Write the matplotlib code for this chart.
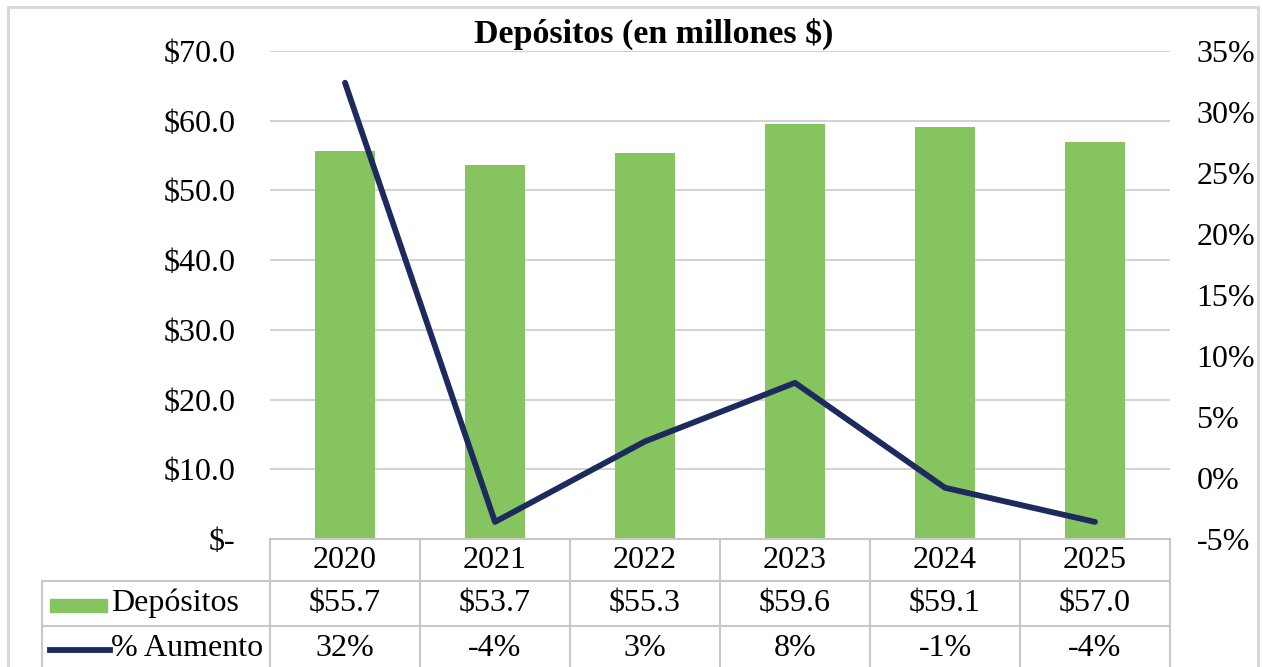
import matplotlib
matplotlib.use("Agg")
import matplotlib.pyplot as plt
import matplotlib.transforms as mtransforms
from matplotlib.patches import Rectangle
from matplotlib.lines import Line2D

years = ["2020", "2021", "2022", "2023", "2024", "2025"]
depositos = [55.7, 53.7, 55.3, 59.6, 59.1, 57.0]
aumento = [0.324, -0.036, 0.030, 0.078, -0.008, -0.036]
dep_labels = ["$55.7", "$53.7", "$55.3", "$59.6", "$59.1", "$57.0"]
aum_labels = ["32%", "-4%", "3%", "8%", "-1%", "-4%"]
left_ticks = [0, 10, 20, 30, 40, 50, 60, 70]
right_ticks = [-0.05, 0, 0.05, 0.10, 0.15, 0.20, 0.25, 0.30, 0.35]

green = "#86c45f"
navy = "#1c2a5e"
grid_col = "#d3d3d3"
fs = 23

plt.rcParams['font.family'] = ['Liberation Serif', 'DejaVu Serif']

fig = plt.figure(figsize=(12.63, 6.67), dpi=100)
W, H = 1263, 667
# axes in pixel terms: left 270, right 1170, top 51, bottom 539
ax = fig.add_axes([270 / W, (H - 539) / H, 900 / W, 488 / H])

# outer border
fig.patches.append(Rectangle((8 / W, -0.05), 1250 / W, (H - 7) / H + 0.05,
                             transform=fig.transFigure, fill=False,
                             edgecolor="#d6d6d6", lw=2))

x = list(range(len(years)))
ax.bar(x, depositos, width=0.4, color=green, zorder=2)
ax.set_xlim(-0.5, 5.5)
ax.set_ylim(0, 70)
ax.set_yticks(left_ticks)
ax.set_yticklabels(["$-" if v == 0 else "$%.1f" % v for v in left_ticks], fontsize=fs)
ax.grid(axis='y', color=grid_col, lw=1.5)
ax.set_axisbelow(True)
ax.set_xticks([])
ax.tick_params(axis='y', length=0, pad=25)
for s in ax.spines.values():
    s.set_visible(False)

ax2 = ax.twinx()
ax2.plot(x, aumento, color=navy, lw=4.2, solid_capstyle='round', zorder=3)
ax2.set_ylim(-0.05, 0.35)
ax2.set_yticks(right_ticks)
ax2.set_yticklabels(["%d%%" % round(v * 100) for v in right_ticks], fontsize=fs)
ax2.tick_params(axis='y', length=0, pad=19)
for s in ax2.spines.values():
    s.set_visible(False)

fig.text(654 / W, 1 - 34 / H, "Depósitos (en millones $)", ha='center', va='center',
         fontsize=24.5, fontweight='bold')

# data table below the plot
tr = mtransforms.blended_transform_factory(ax.transData, ax.transAxes)
col_left = -0.5 - (270 - 42) / 150
rows = [0, -42 / 488, -87 / 488, -131 / 488]
tcol = "#c8c8c8"


def seg(xs, ys):
    ax.add_line(Line2D(xs, ys, transform=tr, color=tcol, lw=1.5, clip_on=False))


seg([-0.5, 5.5], [rows[0], rows[0]])
for r in rows[1:]:
    seg([col_left, 5.5], [r, r])
for i in range(7):
    seg([i - 0.5, i - 0.5], [rows[0], rows[3]])
seg([col_left, col_left], [rows[1], rows[3]])

centers = [(rows[i] + rows[i + 1]) / 2 for i in range(3)]
for i in x:
    ax.text(i, centers[0], years[i], transform=tr, ha='center', va='center', fontsize=fs)
    ax.text(i, centers[1], dep_labels[i], transform=tr, ha='center', va='center', fontsize=fs)
    ax.text(i, centers[2], aum_labels[i], transform=tr, ha='center', va='center', fontsize=fs)

key_x = -0.5 - (270 - 50) / 150
ax.add_patch(Rectangle((key_x, (539 - 612) / 488), 57 / 150, 13 / 488, transform=tr,
                       color=green, clip_on=False))
ax.add_line(Line2D([key_x, key_x + 60 / 150], [centers[2] - 0.004] * 2, transform=tr,
                   color=navy, lw=4.2, clip_on=False))
lab_x = -0.5 - (270 - 111) / 150
ax.text(lab_x, centers[1], "Depósitos", transform=tr, ha='left', va='center', fontsize=fs)
ax.text(lab_x, centers[2], "% Aumento", transform=tr, ha='left', va='center', fontsize=fs)

fig.savefig("out.png", dpi=100)
